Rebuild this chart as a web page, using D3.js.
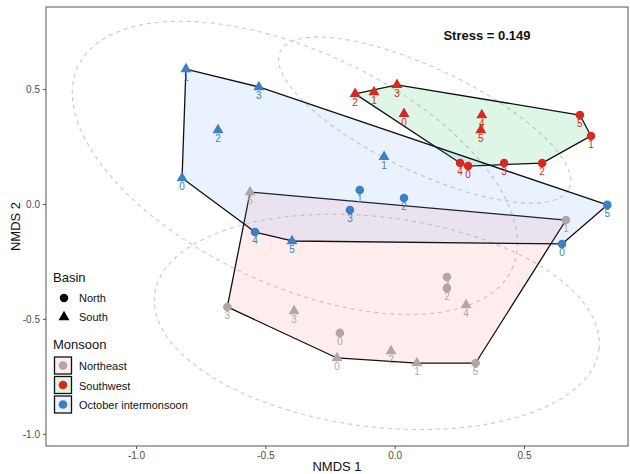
<!DOCTYPE html>
<html><head><meta charset="utf-8">
<script src="https://cdn.jsdelivr.net/npm/d3@7"></script>
<style>body{margin:0;background:#fff;} text{font-family:"Liberation Sans",Arial,sans-serif;}</style>
</head><body><svg id="c" width="630" height="474"></svg>
<script>
// ---- data ----
const monsoons = ["Northeast", "Southwest", "October intermonsoon"];
const pointColors = ["#b0a6a6", "#d8281f", "#3a80c2"];
const hullColors = ["#F8766D", "#00BA38", "#619CFF"];
const basins = ["North", "South"];
const xTicks = [-1.0, -0.5, 0.0, 0.5];
const yTicks = [-1.0, -0.5, 0.0, 0.5];
const stressLabel = "Stress = 0.149";

// [NMDS1, NMDS2, basin, label]
const northeastPts = [
  [-0.559, 0.052, "South", "5"], [0.662, -0.070, "North", "1"], [0.202, -0.318, "North", "4"],
  [0.202, -0.366, "North", "2"], [0.276, -0.440, "South", "4"], [-0.647, -0.448, "North", "3"],
  [-0.389, -0.466, "South", "3"], [-0.212, -0.561, "North", "0"], [-0.223, -0.670, "South", "0"],
  [-0.014, -0.640, "South", "2"], [0.086, -0.692, "South", "1"], [0.313, -0.692, "North", "5"]
];
const southwestPts = [
  [-0.153, 0.479, "South", "2"], [-0.080, 0.487, "South", "1"], [0.009, 0.518, "South", "3"],
  [0.036, 0.392, "South", "0"], [0.337, 0.387, "South", "4"], [0.333, 0.322, "South", "5"],
  [0.716, 0.387, "North", "5"], [0.759, 0.296, "North", "1"], [0.570, 0.178, "North", "2"],
  [0.423, 0.178, "North", "3"], [0.284, 0.165, "North", "0"], [0.253, 0.178, "North", "4"]
];
const octoberPts = [
  [-0.807, 0.587, "South", "1"], [-0.525, 0.509, "South", "3"], [-0.683, 0.322, "South", "2"],
  [-0.822, 0.113, "South", "0"], [-0.540, -0.122, "North", "4"], [-0.397, -0.161, "South", "5"],
  [-0.041, 0.205, "South", "1"], [-0.135, 0.061, "North", "1"], [-0.173, -0.026, "North", "3"],
  [0.036, 0.026, "North", "2"], [0.822, -0.004, "North", "5"], [0.647, -0.174, "North", "0"]
];
// ellipse: [centerX, centerY, axis1X, axis1Y, axis2X, axis2Y] (conjugate semi-axes in data units)
const ellipseNortheast = [-0.069, -0.513, 0.859, -0.119, 0.049, 0.453];
const ellipseSouthwest = [0.116, 0.365, 0.558, -0.298, 0.086, 0.204];
const ellipseOctober = [-0.386, 0.157, 0.839, -0.441, 0.191, 0.461];

const groups = [northeastPts, southwestPts, octoberPts];
const ellipses = [ellipseNortheast, ellipseSouthwest, ellipseOctober];

// ---- layout ----
const svg = d3.select("#c");
const P = {l: 46, r: 628, t: 7, b: 446};
const x = d3.scaleLinear().domain([-1.348, 0.902]).range([P.l, P.r]);
const y = d3.scaleLinear().domain([-1.053, 0.857]).range([P.b, P.t]);

// ellipses
const ts = d3.range(0, 2 * Math.PI + 0.001, Math.PI / 90);
const eg = svg.append("g");
ellipses.forEach(e => {
  const pts = ts.map(t => [x(e[0] + Math.cos(t) * e[2] + Math.sin(t) * e[4]),
                           y(e[1] + Math.cos(t) * e[3] + Math.sin(t) * e[5])]);
  eg.append("path").attr("d", d3.line()(pts) + "Z")
    .attr("fill", "none").attr("stroke", "#c9c9c9").attr("stroke-width", 1.1)
    .attr("stroke-dasharray", "4,4");
});

// hulls
const hg = svg.append("g");
groups.forEach((g, i) => {
  const hull = d3.polygonHull(g.map(p => [x(p[0]), y(p[1])]));
  hg.append("path").attr("d", "M" + hull.join("L") + "Z")
    .attr("fill", hullColors[i]).attr("fill-opacity", 0.13)
    .attr("stroke", "#111").attr("stroke-width", 1.3).attr("stroke-linejoin", "round");
});

// points + labels
const pg = svg.append("g");
const tri = d3.symbol().type(d3.symbolTriangle).size(52);
groups.forEach((g, i) => {
  g.forEach(p => {
    const px = x(p[0]), py = y(p[1]);
    if (p[2] === "North") {
      pg.append("circle").attr("cx", px).attr("cy", py).attr("r", 4.3).attr("fill", pointColors[i]);
    } else {
      pg.append("path").attr("d", tri()).attr("transform", `translate(${px},${py})`).attr("fill", pointColors[i]);
    }
  });
});
groups.forEach((g, i) => {
  g.forEach(p => {
    pg.append("text").attr("x", x(p[0])).attr("y", y(p[1]) + 12)
      .attr("text-anchor", "middle").attr("font-size", 10).attr("fill", pointColors[i]).text(p[3]);
  });
});

// panel border
svg.append("rect").attr("x", P.l).attr("y", P.t).attr("width", P.r - P.l).attr("height", P.b - P.t)
  .attr("fill", "none").attr("stroke", "#555").attr("stroke-width", 1);

// axes
const fmt = d => d.toFixed(1);
const xa = svg.append("g").attr("transform", `translate(0,${P.b})`)
  .call(d3.axisBottom(x).tickValues(xTicks).tickFormat(fmt).tickSize(3).tickPadding(3));
const ya = svg.append("g").attr("transform", `translate(${P.l},0)`)
  .call(d3.axisLeft(y).tickValues(yTicks).tickFormat(fmt).tickSize(3).tickPadding(3));
[xa, ya].forEach(a => {
  a.select(".domain").remove();
  a.selectAll("line").attr("stroke", "#555");
  a.selectAll("text").attr("fill", "#4d4d4d").attr("font-size", 10)
    .style("font-family", "'Liberation Sans', Arial, sans-serif");
});

svg.append("text").attr("x", (P.l + P.r) / 2).attr("y", 471).attr("text-anchor", "middle")
  .attr("font-size", 13).attr("fill", "#111").text("NMDS 1");
svg.append("text").attr("transform", `translate(20,${(P.t + P.b) / 2}) rotate(-90)`)
  .attr("text-anchor", "middle").attr("font-size", 13).attr("fill", "#111").text("NMDS 2");

// stress
svg.append("text").attr("x", 487).attr("y", 40).attr("text-anchor", "middle")
  .attr("font-size", 13).attr("font-weight", "bold").attr("fill", "#111").text(stressLabel);

// legend
const lg = svg.append("g");
lg.append("text").attr("x", 53).attr("y", 282).attr("font-size", 13).attr("fill", "#111").text("Basin");
basins.forEach((b, i) => {
  const cy = 298 + i * 19;
  if (b === "North") lg.append("circle").attr("cx", 64).attr("cy", cy).attr("r", 4.2).attr("fill", "#000");
  else lg.append("path").attr("d", tri()).attr("transform", `translate(64,${cy})`).attr("fill", "#000");
  lg.append("text").attr("x", 79).attr("y", cy + 4).attr("font-size", 11).attr("fill", "#111").text(b);
});
lg.append("text").attr("x", 53).attr("y", 349).attr("font-size", 13).attr("fill", "#111").text("Monsoon");
monsoons.forEach((m, i) => {
  const top = 357 + i * 19.5;
  lg.append("rect").attr("x", 54.5).attr("y", top).attr("width", 17).attr("height", 17)
    .attr("fill", "#fff").attr("stroke", "none");
  lg.append("rect").attr("x", 54.5).attr("y", top).attr("width", 17).attr("height", 17)
    .attr("fill", hullColors[i]).attr("fill-opacity", 0.13).attr("stroke", "#111").attr("stroke-width", 1.3);
  lg.append("circle").attr("cx", 63).attr("cy", top + 8.5).attr("r", 4.3).attr("fill", pointColors[i]);
  lg.append("text").attr("x", 79).attr("y", top + 13).attr("font-size", 11).attr("fill", "#111").text(m);
});
</script></body></html>
